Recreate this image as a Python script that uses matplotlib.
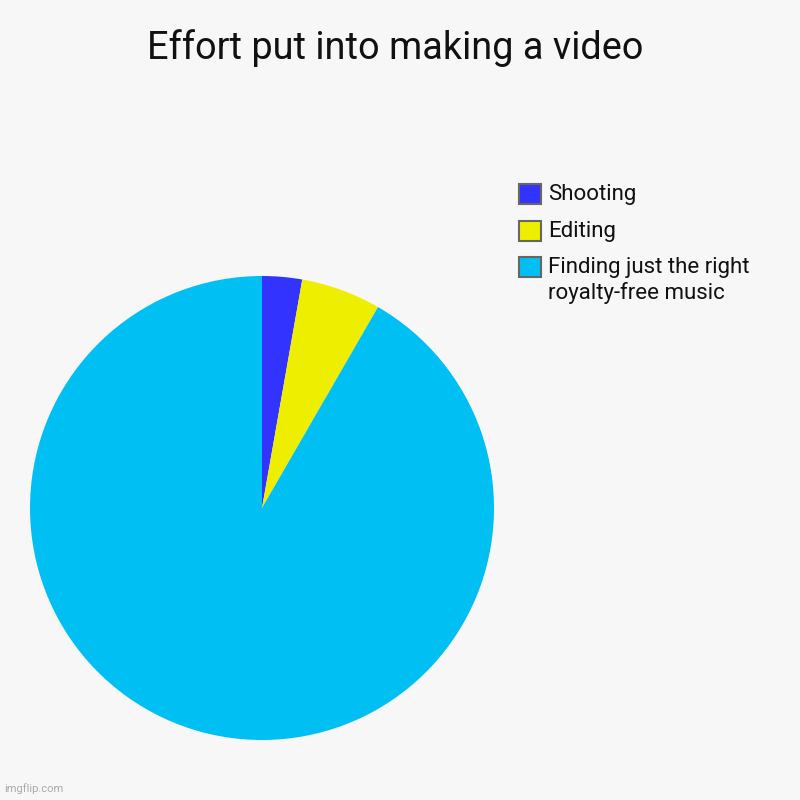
import matplotlib
matplotlib.use("Agg")
import matplotlib.pyplot as plt
from matplotlib.patches import Patch

labels = ["Shooting", "Editing", "Finding just the right\nroyalty-free music"]
values = [1, 2, 33]
colors = ["#3333FF", "#EEEE00", "#00BFF3"]
title = "Effort put into making a video"

plt.rcParams['font.family'] = ['Roboto', 'DejaVu Sans']
bg = "#F7F7F7"
fig = plt.figure(figsize=(8, 8), dpi=100, facecolor=bg)
ax = fig.add_axes([0.0375, 0.075, 0.58, 0.58])
ax.set_facecolor(bg)
ax.pie(values, colors=colors, startangle=90, counterclock=False,
       wedgeprops=dict(linewidth=0))
ax.set_xlim(-1, 1)
ax.set_ylim(-1, 1)
ax.set_aspect('equal')

fig.text(0.494, 0.940, title, ha='center', va='center', fontsize=27.3, color='#111111')

handles = [Patch(facecolor=c, edgecolor='#666666', linewidth=1.5) for c in colors]
leg = fig.legend(handles, labels, loc='upper left', bbox_to_anchor=(0.6375, 0.781),
                 frameon=False, fontsize=16, handlelength=1.0, handleheight=1.0,
                 handletextpad=0.3, labelspacing=0.7, borderaxespad=0)
for t in leg.get_texts():
    t.set_color('#111111')
# align handles with the first line of multi-line labels
try:
    for col in leg._legend_handle_box.get_children():
        for row in col.get_children():
            row.align = "top"
except Exception:
    pass

fig.text(0.005, 0.008, "imgflip.com", fontsize=8, color='#AAAAAA', ha='left', va='bottom')

fig.savefig("out.png", dpi=100, facecolor=bg)
